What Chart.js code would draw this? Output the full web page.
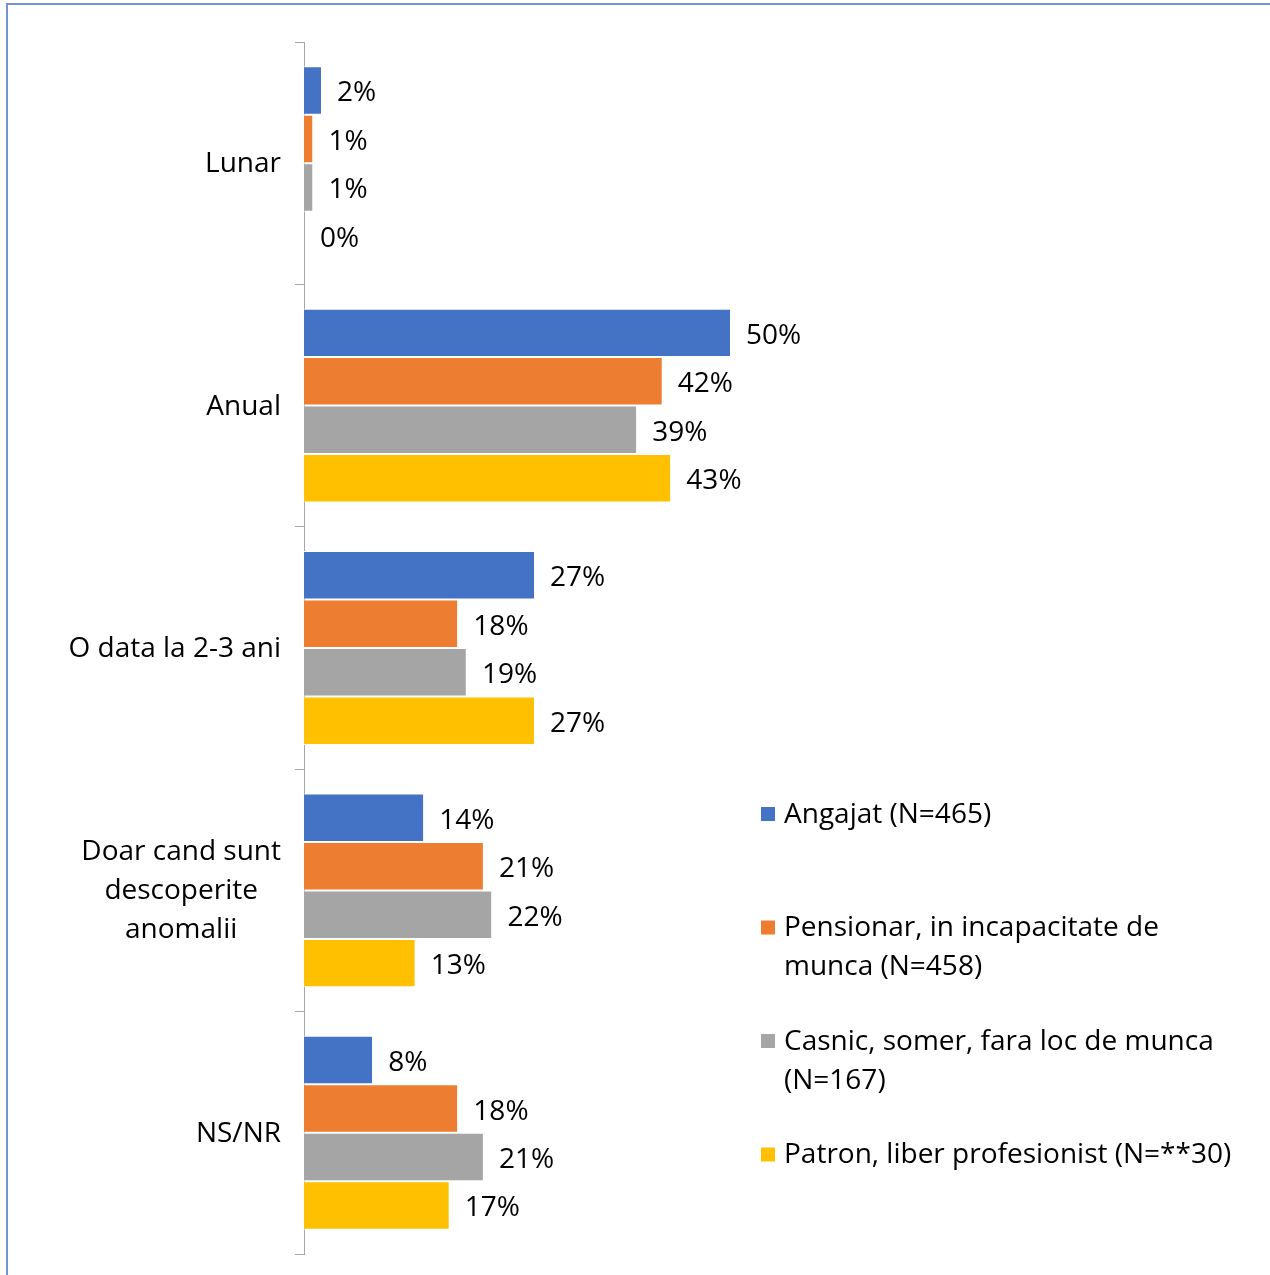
<!DOCTYPE html>
<html>
<head>
<meta charset="utf-8">
<script src="https://cdn.jsdelivr.net/npm/chart.js@4"></script>
<style>
  body { margin: 0; background: #fff; }
  #wrap { position: relative; width: 1270px; height: 1275px; overflow: hidden; }
  #frame { position: absolute; left: 6px; top: 3px; width: 1400px; height: 1400px;
           border-top: 2px solid #7393d2; border-left: 2px solid #7393d2; }
  canvas { position: absolute; left: 0; top: 0; }
</style>
</head>
<body>
<div id="wrap">
  <div id="frame"></div>
  <canvas id="chart" width="1270" height="1275"></canvas>
</div>
<script>
// categories and series (values in %)
const categories = ['Lunar', 'Anual', 'O data la 2-3 ani', ['Doar cand sunt', 'descoperite', 'anomalii'], 'NS/NR'];
const seriesNames = [
    ['Angajat (N=465)'],
    ['Pensionar, in incapacitate de', 'munca (N=458)'],
    ['Casnic, somer, fara loc de munca', '(N=167)'],
    ['Patron, liber profesionist (N=**30)']
];
const angajat = [2, 50, 27, 14, 8];
const pensionar = [1, 42, 18, 21, 18];
const casnic = [1, 39, 19, 22, 21];
const patron = [0, 43, 27, 13, 17];
const colors = ['#4472C4', '#ED7D31', '#A5A5A5', '#FFC000'];

const FONT = '28px "Open Sans"';

// value labels at bar ends
const valueLabels = {
    id: 'valueLabels',
    afterDatasetsDraw(chart) {
        const ctx = chart.ctx;
        ctx.save();
        ctx.font = FONT;
        ctx.fillStyle = '#000';
        ctx.textBaseline = 'middle';
        ctx.textAlign = 'left';
        chart.data.datasets.forEach((ds, i) => {
            chart.getDatasetMeta(i).data.forEach((bar, j) => {
                ctx.fillText(ds.data[j] + '%', bar.x + 16, bar.y + 3);
            });
        });
        ctx.restore();
    }
};

// category labels, multi-line blocks centred on their widest line
const catLabels = {
    id: 'catLabels',
    afterDraw(chart) {
        const ctx = chart.ctx;
        const y = chart.scales.y;
        ctx.save();
        ctx.font = FONT;
        ctx.fillStyle = '#000';
        ctx.textBaseline = 'middle';
        ctx.textAlign = 'center';
        chart.data.labels.forEach((lab, i) => {
            const lines = Array.isArray(lab) ? lab : [lab];
            const w = Math.max(...lines.map(l => ctx.measureText(l).width));
            const cx = 281 - w / 2;
            const cy = y.getPixelForValue(i) + 1;
            const lh = 39;
            lines.forEach((l, k) => {
                ctx.fillText(l, cx, cy + (k - (lines.length - 1) / 2) * lh);
            });
        });
        ctx.restore();
    }
};

// legend on the right
const sideLegend = {
    id: 'sideLegend',
    afterDraw(chart) {
        const ctx = chart.ctx;
        ctx.save();
        ctx.font = FONT;
        ctx.textBaseline = 'middle';
        ctx.textAlign = 'left';
        chart.data.datasets.forEach((ds, i) => {
            const top = 815 + i * 113.5;
            ctx.fillStyle = ds.backgroundColor;
            ctx.fillRect(761, top - 8, 14, 14);
            ctx.fillStyle = '#000';
            ds.legendLines.forEach((l, k) => ctx.fillText(l, 784, top + k * 39));
        });
        ctx.restore();
    }
};

const series = [angajat, pensionar, casnic, patron];

new Chart(document.getElementById('chart'), {
    type: 'bar',
    data: {
        labels: categories,
        datasets: series.map((vals, i) => ({
            label: seriesNames[i].join(' '),
            legendLines: seriesNames[i],
            data: vals,
            backgroundColor: colors[i],
            borderColor: '#fff',
            borderWidth: { top: 1, bottom: 1, left: 0, right: 0 },
            borderSkipped: 'left',
            categoryPercentage: 0.8,
            barPercentage: 1
        }))
    },
    options: {
        indexAxis: 'y',
        responsive: false,
        animation: false,
        layout: { padding: { left: 0, top: 42, bottom: 21, right: 1270 - 304 - 511.2 } },
        plugins: {
            legend: { display: false },
            tooltip: { enabled: false }
        },
        scales: {
            x: { display: false, min: 0, max: 60 },
            y: {
                ticks: { display: false },
                grid: { drawOnChartArea: false, drawTicks: true, tickLength: 9, color: '#a6a6a6', offset: true },
                border: { display: true, color: '#a6a6a6', width: 1 },
                afterFit(scale) { scale.width = 304; }
            }
        }
    },
    plugins: [valueLabels, catLabels, sideLegend]
});
</script>
</body>
</html>
